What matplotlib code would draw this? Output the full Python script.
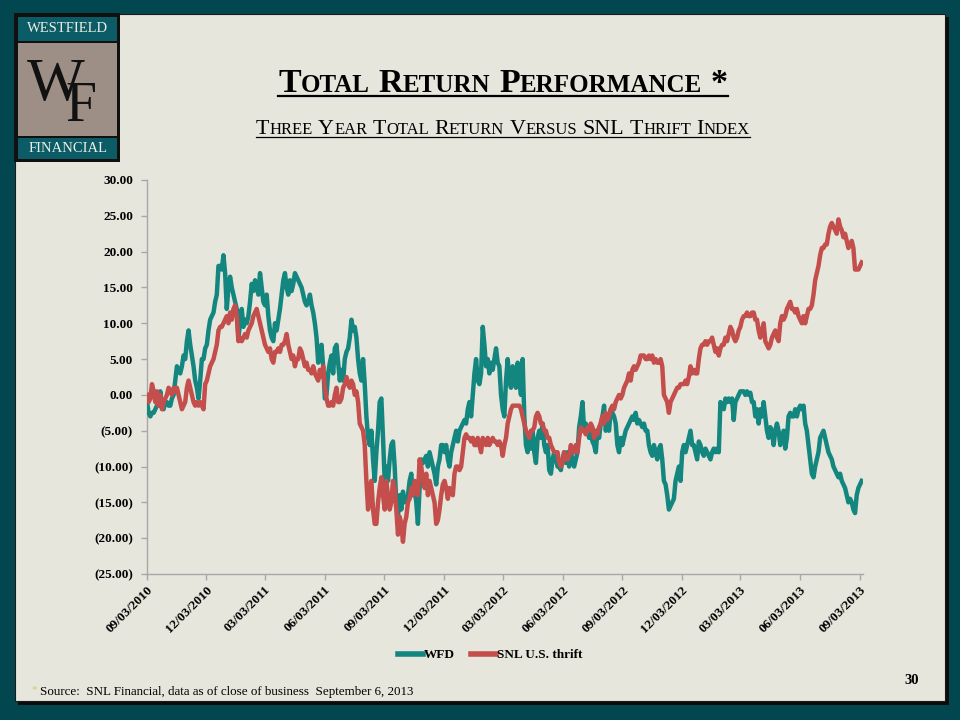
import numpy as np
import matplotlib
matplotlib.use("Agg")
import matplotlib.pyplot as plt
import matplotlib.dates as mdates
from matplotlib.patches import Rectangle
from matplotlib.lines import Line2D
from matplotlib.ticker import FuncFormatter, FixedLocator
from datetime import datetime

# ---------------- data ----------------
tick_labels = ["09/03/2010", "12/03/2010", "03/03/2011", "06/03/2011", "09/03/2011",
               "12/03/2011", "03/03/2012", "06/03/2012", "09/03/2012", "12/03/2012",
               "03/03/2013", "06/03/2013", "09/03/2013"]
y_ticks = [-25, -20, -15, -10, -5, 0, 5, 10, 15, 20, 25, 30]
first_date = "09/03/2010"
last_date = "09/06/2013"
series_names = ["WFD", "SNL U.S. thrift"]

wfd = [
    -1, -2.5, -3, -2.5, -2.5, -2, -1.5, -1, 0.5, -1.5,
    -2, -1, -1, -1.5, -1.5, -0.5, 0, 2, 4, 3.5,
    3, 4, 5.5, 5, 7.5, 9, 7, 5.5, 4, 2,
    1, -0.5, 2, 5, 5, 6.5, 7, 9, 10.5, 11,
    11.5, 13, 14, 18, 18, 17.5, 19.5, 17, 12, 15,
    16.5, 15, 14, 13, 12, 8, 10, 12, 9.5, 10.5,
    10, 11, 13, 15.5, 14.5, 16, 15, 14, 17, 15,
    13, 12.5, 14, 11, 9, 8, 7.5, 10, 9, 10.5,
    12, 14, 16, 17, 15, 14, 16, 14.5, 15.5, 17,
    16.5, 16, 15.5, 15, 14, 13, 12.5, 13, 14, 12.5,
    11.5, 10, 8, 4.5, 5.5, 7, 4, -0.5, 0, 3,
    4.5, 5.5, 3, 6.5, 7, 4.5, 2, 3.5, 2, 5,
    6, 6.5, 8, 10.5, 9, 9.5, 8, 5, 3, 2,
    5, 1.5, -3, -6, -7, -5, -9, -12, -8, -5,
    -1, -0.5, -6, -12, -10, -12, -9, -7, -6.5, -10,
    -15, -17, -14, -16, -13.5, -15, -14.5, -14, -12, -11,
    -14, -13, -15, -18, -13, -9, -9.5, -9, -8.5, -10,
    -8, -9, -10, -11, -12.5, -10, -9, -7, -7, -8,
    -7, -9, -10, -8, -7, -6, -5, -6.5,
    -5, -4.5, -4, -3.5, -4, -2, -1, -3, 0, 3,
    5, 2, 1.5, 3, 9.5, 7, 4, 5, 3, 4.5,
    3.5, 5, 6.5, 4.5, 4, 0, -2, -3, 2, 5,
    2, 1, 4, 3, 1, 4.5, 2, 0, 5, -3,
    -7, -8, -6, -7.5, -5, -8, -9.5, -6, -5, -6,
    -4, -7, -8, -7, -10.5, -11, -9, -8, -9, -10,
    -10, -10.5, -9, -8, -9.5, -8, -10, -8, -9, -10,
    -9, -8, -4.5, -3, -1, -5, -4, -4.5, -6, -5,
    -6.5, -7, -8, -5, -6, -4, -3, -1.5, -5, -4,
    -5, -2, -2.5, -3, -4, -7, -8, -6, -7, -6,
    -5, -4.5, -4, -3.5, -3, -3.5, -2.5, -4, -3.5, -4,
    -4.5, -4, -5, -5, -7, -8, -8.5, -7, -8, -9,
    -7.5, -7, -9, -12, -12.5, -14, -16, -15.5, -15, -14.5,
    -12, -11, -10, -12, -8, -7, -8, -7, -6, -5,
    -7, -7, -8, -9, -6.5, -7, -8, -8.5, -7.5, -8,
    -8.5, -9, -8, -7.5, -8, -7.5, -8, -1, -1.5, -2,
    -0.5, -1, -0.5, -1, -0.5, -3.5, -1, -0.5, 0, 0.5,
    0.5, 0.5, 0, 0.5, 0, 0.3, -1, -1, -3, -2,
    -4, -2, -3, -1, -3, -5, -6, -4.5, -5, -7,
    -5, -4, -5, -7, -6, -5, -7.5, -6, -3, -2.5,
    -3, -3, -2, -3, -2, -1.5, -2, -1.5, -4, -5,
    -7, -9, -11, -11.5, -10, -9, -8, -6, -5.5, -5,
    -6, -7, -8, -8.5, -9, -10, -10.5, -11, -11.5, -11,
    -12, -12.5, -13, -14, -15, -14.5, -15, -16, -16.5, -14,
    -13, -12.5, -12,
]

snl = [
    0, -1, -0.5, 1.5, 0.5, -1, 0.5, -1.5, 0, -2,
    -1, -0.5, 0, 1, 0.5, 0, 1, 0.5, 1, 0,
    -1, -2, -1.5, -1, 1, 2, 1, 0, -1, -1.5,
    -1, -1.5, -1, -1.5, -2, 1.5, 2, 3, 4, 4.5,
    5, 6, 7, 9, 9.5, 9.5, 10, 10.5, 11, 10,
    11.5, 10.5, 12, 12.5, 11, 7.5, 8, 7.5, 8, 8.5,
    8, 9, 9.5, 10, 11, 11.5, 12, 11, 10, 9,
    8, 7, 6.5, 6, 6.5, 5, 4.5, 6, 6, 6.5,
    6, 7, 7, 7.5, 8.5, 7, 6, 5, 5.5, 4,
    5, 5, 6.5, 6, 5, 4, 4.5, 3.5, 3.5, 3,
    4, 3, 2.5, 2, 3.5, 2.5, 4, 1, -0.5, -1.5,
    -1.5, -1, -1.5, 0, 1, -1, -1, -0.5, 1, 1.5,
    2.5, 1.5, 1, 2, 1.5, 0, 0.5, -1, -4, -4.5,
    -5, -7, -12, -16, -13, -12, -16, -18, -18, -15,
    -13, -11.5, -14, -16, -12, -14, -16, -15, -12, -13,
    -16, -19.5, -17, -18, -20.5, -18, -17, -15, -14.5, -13,
    -14, -12, -13, -14, -9, -10, -12, -13, -11, -14,
    -12, -13, -14, -15, -18, -17.5, -16, -14, -12.5, -12,
    -13, -14.5, -13, -13.5, -14, -11, -10, -10,
    -10.5, -10, -8, -6, -5.5, -6, -6, -6.5, -6, -7,
    -7, -6, -7, -8, -6, -6.5, -7, -6, -7, -6.5,
    -6, -6.5, -6.5, -7, -6.5, -7, -8.5, -7, -6, -4,
    -3, -2, -1.5, -1.5, -1.5, -1.5, -1.5, -2, -3, -4,
    -5, -5.5, -6, -5, -5, -4.5, -3, -2.5, -3, -4,
    -4, -5, -5, -6, -6, -7, -7.5, -8, -8, -8,
    -9.5, -10, -9.5, -8, -9, -9, -8.5, -7, -8, -8,
    -7, -8, -6, -4.5, -5, -5, -5.5, -4.5, -5, -4,
    -4.5, -6, -5, -5.5, -4.5, -4, -3, -4, -2.5, -3.5,
    -3, -2, -1.5, -2, -1, -0.5, 0, -0.5, 0, 1,
    1.5, 2, 3, 2, 3.5, 4, 3.5, 4, 4.5, 5.5,
    5.5, 5.5, 5, 5, 5.5, 5, 5.5, 4.5, 5, 4.5,
    4.5, 5, 4, 0, -0.5, -1, -2.5, -1, -0.5, 0,
    0.5, 1, 1, 1.5, 1.5, 1.5, 2, 1.5, 2.5, 4,
    3, 3.5, 3, 3, 5, 6.5, 7, 7, 7.5, 7,
    7.5, 7.5, 8, 7, 6, 6.5, 5.5, 6.5, 7, 7,
    8, 7.5, 8.5, 9.5, 9, 8, 7.5, 8, 9, 9.5,
    10.5, 11, 11, 11.5, 11, 11, 11.5, 11.5, 10.5, 10.5,
    9, 8, 9, 10, 7.5, 7, 6.5, 7, 8, 8.5,
    9, 8, 7.5, 10, 11, 10.5, 11, 12, 12.5, 13,
    12, 12, 11.5, 12, 11, 10.5, 10, 11, 10, 11,
    12, 12, 12.5, 14, 16, 17, 18, 19.5, 20.5, 20.5,
    21, 21, 22.5, 23.5, 24, 23.5, 23, 22.5, 24.5, 23.5,
    23, 22, 22.5, 21.5, 20.5, 21, 21.5, 20.5, 17.5, 17.5,
    17.5, 18, 18.5,
]

# ---------------- style ----------------
W, H = 960, 720
OUTER = "#024750"
PANEL = "#E6E6DC"
TEAL = "#148680"
RED = "#C34E4B"
GRID = "#A8A8A8"
SERIF = ["Liberation Serif", "DejaVu Serif"]
plt.rcParams["font.family"] = SERIF

fig = plt.figure(figsize=(W / 100, H / 100), dpi=100)
fig.patch.set_facecolor(OUTER)


def fx(px):
    return px / W


def fy(py):
    return 1 - py / H


def rect(x0, y0, x1, y1, **kw):
    fig.add_artist(Rectangle((fx(x0), fy(y1)), (x1 - x0) / W, (y1 - y0) / H,
                             transform=fig.transFigure, **kw))


# slide panel with shadow (below the axes)
rect(18, 17, 949, 705, facecolor="#0c0c0c", edgecolor="none", zorder=-3)
rect(15, 14, 945, 701, facecolor=PANEL, edgecolor="#1a1a1a", linewidth=0.8, zorder=-2)

# logo
rect(14, 13, 120, 162, facecolor="#101010", edgecolor="none", zorder=1)
rect(18, 17, 117, 41, facecolor="#0B5C66", edgecolor="none", zorder=1.1)
rect(18, 43, 117, 136, facecolor="#9E8F86", edgecolor="none", zorder=1.1)
rect(18, 138, 117, 159, facecolor="#0B5C66", edgecolor="none", zorder=1.1)
fig.text(fx(68), fy(29), "WESTFIELD", color="#EDEDE4", fontsize=10.5, family=SERIF,
         ha="center", va="center", zorder=2)
fig.text(fx(68), fy(148), "FINANCIAL", color="#EDEDE4", fontsize=10.5, family=SERIF,
         ha="center", va="center", zorder=2)
fig.text(fx(56), fy(100), "W", color="#111111", fontsize=44, family=SERIF,
         ha="center", va="baseline", zorder=2)
fig.text(fx(81), fy(121), "F", color="#111111", fontsize=40, family=SERIF,
         ha="center", va="baseline", zorder=2)

renderer = fig.canvas.get_renderer()


def smallcaps(text, cx, base_y, big, small, weight, ul_y, ul_lw):
    runs = []
    for ch in text:
        if ch == " ":
            runs.append((" ", None))
            continue
        size = big if (ch.isupper() or not ch.isalpha()) else small
        s = ch.upper()
        if runs and runs[-1][1] == size:
            runs[-1] = (runs[-1][0] + s, size)
        else:
            runs.append((s, size))
    items = []
    total = 0.0
    for s, size in runs:
        if size is None:
            w = 0.25 * big * 100 / 72
            items.append((None, w))
        else:
            t = fig.text(0, 0, s, fontsize=size, fontweight=weight, color="black",
                         family=SERIF, va="baseline", ha="left", zorder=3)
            w = t.get_window_extent(renderer).width
            items.append((t, w))
        total += w
    x = cx - total / 2
    x_start = x
    for t, w in items:
        if t is not None:
            t.set_position((fx(x), fy(base_y)))
        x += w
    fig.add_artist(Line2D([fx(x_start), fx(x_start + total)], [fy(ul_y), fy(ul_y)],
                          transform=fig.transFigure, color="black", lw=ul_lw, zorder=3))


smallcaps("Total Return Performance *", 503, 92, 24.5, 18, "bold", 96, 1.6)
smallcaps("Three Year Total Return Versus SNL Thrift Index", 503, 134, 15.8, 12,
          "normal", 137, 0.9)

# ---------------- chart ----------------
d0 = mdates.date2num(datetime.strptime(first_date, "%m/%d/%Y"))
d1 = mdates.date2num(datetime.strptime(last_date, "%m/%d/%Y"))
x_w = np.linspace(d0, d1, len(wfd))
x_s = np.linspace(d0, d1, len(snl))
tick_pos = [mdates.date2num(datetime.strptime(s, "%m/%d/%Y")) for s in tick_labels]

ax = fig.add_axes([fx(147), fy(574), (863 - 147) / W, (574 - 180) / H])
ax.set_facecolor("none")
ax.plot(x_w, wfd, color=TEAL, lw=3.2, solid_joinstyle="round", label=series_names[0], zorder=3)
ax.plot(x_s, snl, color=RED, lw=3.2, solid_joinstyle="round", label=series_names[1], zorder=4)

ax.set_ylim(-25, 30)
ax.set_xlim(d0, d1 + 2)
ax.yaxis.set_major_locator(FixedLocator(y_ticks))
ax.yaxis.set_major_formatter(FuncFormatter(
    lambda v, p: f"{v:.2f}" if v >= 0 else f"({abs(v):.2f})"))
ax.xaxis.set_major_locator(FixedLocator(tick_pos))
ax.set_xticklabels(tick_labels, rotation=45, ha="right", va="top",
                   rotation_mode="anchor", fontsize=9.5, fontweight="bold")
for lab in ax.get_yticklabels():
    lab.set_fontweight("bold")
    lab.set_fontsize(9.5)

for sp in ["top", "right"]:
    ax.spines[sp].set_visible(False)
for sp in ["left", "bottom"]:
    ax.spines[sp].set_color(GRID)
    ax.spines[sp].set_linewidth(1.0)
ax.tick_params(axis="both", colors=GRID, labelcolor="black", length=4, width=1.0)
ax.tick_params(axis="y", pad=6)
ax.tick_params(axis="x", pad=3)

leg = fig.legend(loc="center", bbox_to_anchor=(fx(490), fy(655)), ncol=2, frameon=False,
                 prop={"weight": "bold", "size": 9.5, "family": SERIF}, handlelength=1.9,
                 handletextpad=0.1, columnspacing=1.2)
for l in leg.get_lines():
    l.set_linewidth(4)

# footnote & page number
fig.text(fx(31), fy(692), "*", color="#D8C860", fontsize=8, ha="left", va="baseline")
fig.text(fx(40), fy(695), "Source:  SNL Financial, data as of close of business  September 6, 2013",
         color="black", fontsize=9.4, ha="left", va="baseline")
fig.text(fx(919), fy(684), "30", color="black", fontsize=10.5, fontweight="bold",
         ha="right", va="baseline")

fig.savefig("out.png", dpi=100, facecolor=OUTER)
